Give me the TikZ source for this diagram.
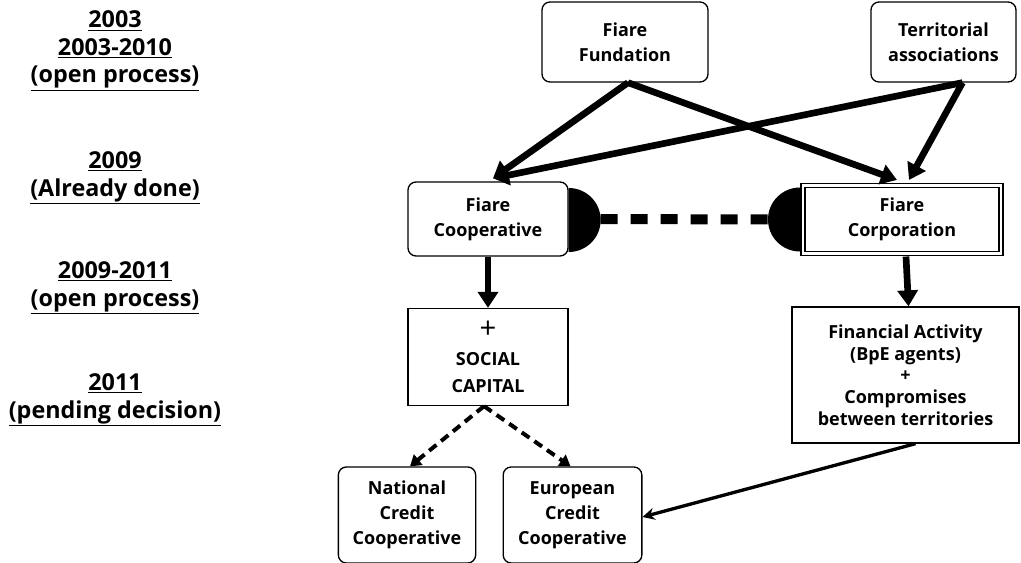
\documentclass[tikz,border=0pt]{standalone}
\usepackage{fontspec}
\setmainfont{Open Sans}
\usetikzlibrary{arrows.meta,calc}
\begin{document}
\begin{tikzpicture}[x=0.75pt,y=-0.75pt,
  rbox/.style={draw,line width=1pt,rounded corners=6pt,align=center,font=\bfseries\fontsize{13.5}{18.75}\selectfont,inner sep=0pt},
  sbox/.style={draw,line width=1pt,align=center,font=\bfseries\fontsize{13.5}{18.75}\selectfont,inner sep=0pt},
  bigarrow/.style={line width=5pt,-{Triangle[length=12pt,width=15pt]}},
  dasharrow/.style={line width=3pt,dash pattern=on 7pt off 4.5pt,-{Triangle[length=8pt,width=10pt]}},
  thinarrow/.style={line width=2.5pt,-{Stealth[length=9pt,width=9pt]}},
  yeartext/.style={align=center,font=\bfseries\fontsize{17.5}{20.6}\selectfont,inner sep=0pt}
]
\useasboundingbox (0,0) rectangle (1021,563);

% left column
\node[yeartext] (y1) at (115,51) {\underline{2003}\\\underline{2003-2010}\\\underline{(open process)}};
\node[yeartext] (y2) at (115,178) {\underline{2009}\\\underline{(Already done)}};
\node[yeartext] (y3) at (115,288) {\underline{2009-2011}\\\underline{(open process)}};
\node[yeartext] (y4) at (115,400) {\underline{2011}\\\underline{(pending decision)}};

% boxes
\node[rbox,minimum width=124.5pt,minimum height=60pt] (fund) at (625,42) {Fiare\\Fundation};
\node[rbox,minimum width=108.75pt,minimum height=60pt] (terr) at (943.5,42) {Territorial\\associations};
\node[rbox,minimum width=120pt,minimum height=55.5pt] (coop) at (488,219) {Fiare\\Cooperative};
\node[sbox,double,double distance=2.2pt,line width=0.8pt,minimum width=148.5pt,minimum height=51pt] (corp) at (902,219.5) {Fiare\\Corporation};
\node[sbox,minimum width=120pt,minimum height=72.75pt,font=\bfseries\fontsize{13.5}{20.5}\selectfont] (social) at (488,357) {{\mdseries\fontsize{22}{20.5}\selectfont +}\\SOCIAL\\CAPITAL};
\node[sbox,minimum width=170.25pt,minimum height=102pt,font=\bfseries\fontsize{13.5}{16.3}\selectfont] (fin) at (905.5,375) {Financial Activity\\(BpE agents)\\+\\Compromises\\between territories};
\node[rbox,minimum width=103pt,minimum height=72pt] (nat) at (407,515) {National\\Credit\\Cooperative};
\node[rbox,minimum width=104pt,minimum height=72pt] (eur) at (572.5,515) {European\\Credit\\Cooperative};

% half discs
\begin{scope}
\clip ($(coop.east)+(0,-45)$) rectangle ($(coop.east)+(40,45)$);
\fill ($(coop.east)+(0,1)$) circle[radius=32];
\end{scope}
\coordinate (corpw) at ($(corp.west)+(-2.5,0)$);
\begin{scope}
\clip ($(corpw)+(-40,-45)$) rectangle ($(corpw)+(0,45)$);
\fill (corpw) circle[radius=32];
\end{scope}
\coordinate (dA) at ($(coop.east)+(32,0)$);
\coordinate (dB) at ($(corpw)+(-32,0)$);
\draw[line width=7.5pt,dash pattern=on 12.75pt off 9.75pt] (dA) -- (dB);

% arrows
\draw[bigarrow] ($(fund.south)+(3,0)$) -- ($(coop.north)+(5,-3)$);
\draw[bigarrow] ($(fund.south)+(3,0)$) -- ($(corp.north)+(-5,-5)$);
\draw[bigarrow] ($(terr.south)+(19,0)$) -- ($(coop.north)+(5,-3)$);
\draw[bigarrow] ($(terr.south)+(19,0)$) -- ($(corp.north)+(7,-5)$);
\draw[bigarrow] (coop.south) -- (social.north);
\draw[bigarrow] ($(corp.south)+(4,2.5)$) -- ($(fin.north)+(3,0)$);

\draw[dasharrow] ($(social.south)+(-4,0)$) -- ($(nat.north)+(3,0)$);
\draw[dasharrow] ($(social.south)+(-4,0)$) -- ($(eur.north)+(-2,0)$);
\draw[thinarrow] ($(fin.south)+(10,0)$) -- ($(eur.east)+(0,2)$);
\end{tikzpicture}
\end{document}
